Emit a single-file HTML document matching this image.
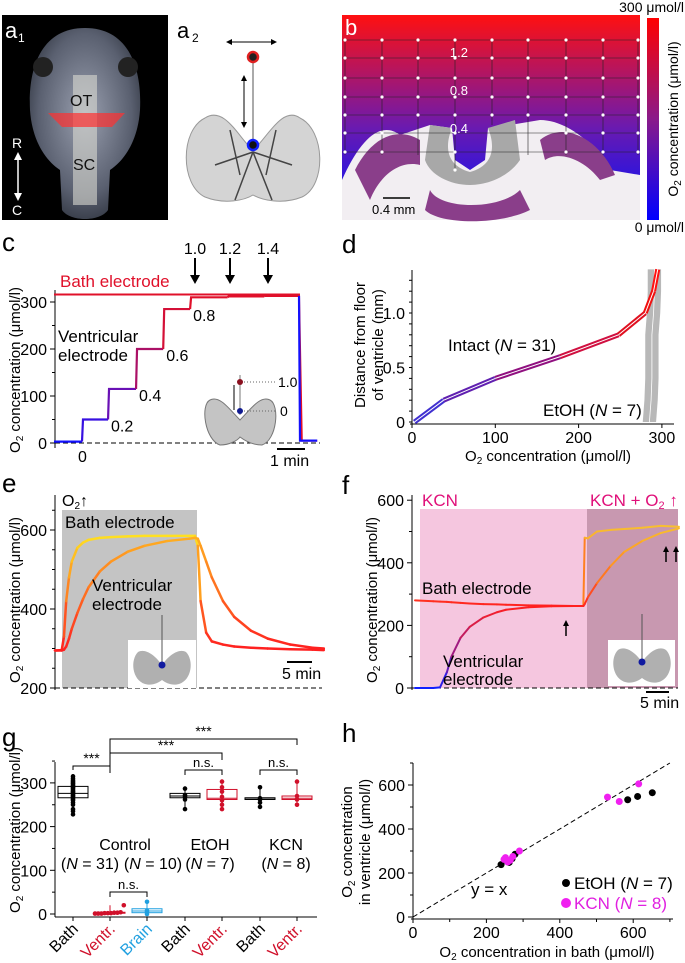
<!DOCTYPE html>
<html><head><meta charset="utf-8">
<style>
body{margin:0;background:#fff;}
svg{display:block;font-family:"Liberation Sans",Arial,sans-serif;}
</style></head>
<body>
<svg id="fig" width="685" height="963" viewBox="0 0 685 963" xmlns="http://www.w3.org/2000/svg">
<defs>
<linearGradient id="gradB" x1="0" y1="0" x2="0" y2="1"><stop offset="0" stop-color="#ff0000"/><stop offset="0.5" stop-color="#8a1a8a"/><stop offset="1" stop-color="#0000ff"/></linearGradient>
<linearGradient id="gradC" x1="0" y1="1" x2="0" y2="0"><stop offset="0" stop-color="#0000ff"/><stop offset="0.6" stop-color="#8a1a8a"/><stop offset="1" stop-color="#ff0000"/></linearGradient>
<linearGradient id="gradBV" x1="0" y1="0" x2="0" y2="1"><stop offset="0" stop-color="#ff1010"/><stop offset="0.55" stop-color="#6a1ab0"/><stop offset="1" stop-color="#0010ff"/></linearGradient>
<radialGradient id="body" cx="0.5" cy="0.45" r="0.6"><stop offset="0" stop-color="#9aa0b0"/><stop offset="0.7" stop-color="#5a6070"/><stop offset="1" stop-color="#303540"/></radialGradient>
</defs>

<!-- a1 -->
<g>
<rect x="2" y="15" width="166" height="205" fill="#000"/>
<path d="M85 28 C40 28 28 70 30 110 C32 140 45 160 60 170 L62 210 C70 222 100 222 108 210 L110 170 C125 160 138 140 140 110 C142 70 130 28 85 28Z" fill="url(#body)"/>
<rect x="73" y="75" width="24" height="130" fill="#d8d8d0" opacity="0.6"/>
<circle cx="43" cy="67" r="10" fill="#222"/><circle cx="128" cy="67" r="10" fill="#222"/>
<path d="M48 113 L125 113 L112 127 L62 127Z" fill="#ff3030" opacity="0.7"/>
<text x="5" y="38" fill="#fff" font-size="22">a</text><text x="18" y="42" fill="#fff" font-size="12">1</text>
<text x="70" y="106" font-size="16" fill="#111">OT</text>
<text x="73" y="170" font-size="16" fill="#111">SC</text>
<text x="12" y="148" font-size="14" fill="#fff">R</text>
<text x="12" y="215" font-size="14" fill="#fff">C</text>
<line x1="18" y1="155" x2="18" y2="198" stroke="#fff" stroke-width="1.5"/>
<path d="M14 160 L18 152 L22 160Z M14 193 L18 201 L22 193Z" fill="#fff"/>
</g>

<!-- a2 -->
<g>
<text x="177" y="38" font-size="22">a</text><text x="192" y="42" font-size="12">2</text>
<line x1="228" y1="42" x2="275" y2="42" stroke="#000"/>
<path d="M226 42 L232 39 L232 45Z M277 42 L271 39 L271 45Z"/>
<line x1="253" y1="57" x2="253" y2="145" stroke="#555"/>
<line x1="244" y1="78" x2="244" y2="125" stroke="#000"/>
<path d="M244 75 L241 81 L247 81Z M244 128 L241 122 L247 122Z"/>
<circle cx="253" cy="57" r="5" fill="#222" stroke="#e02020" stroke-width="2.5"/>
<path d="M253 150 C240 140 225 105 205 118 C180 130 180 185 205 197 C225 205 245 200 253 195 C262 200 282 205 302 197 C327 185 325 130 300 118 C282 105 266 140 253 150Z" fill="#d4d4d4" stroke="#999"/>
<path d="M253 152 L235 200 M253 152 L272 200 M253 152 L215 165 M253 152 L292 165 M230 130 L240 175 M276 130 L266 175" stroke="#444" stroke-width="1.5"/>
<circle cx="253" cy="145" r="5" fill="#111" stroke="#1020ff" stroke-width="2.5"/>
</g>

<!-- b -->
<g>
<rect x="342" y="15" width="298" height="205" fill="url(#gradBV)"/>
<path d="M342 180 C360 140 380 120 400 135 L430 125 L452 128 L455 160 L470 170 L485 160 L488 128 L510 125 L540 120 C570 120 600 150 610 170 L640 175 L640 220 L342 220Z" fill="#f2eef2"/>
<path d="M355 170 C370 140 395 125 420 140 L420 165 C400 160 380 175 370 200Z M540 140 C565 120 600 140 615 175 L600 180 C585 160 560 150 545 160Z M430 190 C440 210 500 210 520 190 L530 210 C500 225 440 225 425 210Z" fill="#8a3e8a"/>
<path d="M430 125 L452 128 C445 145 445 165 470 172 C495 165 495 145 488 128 L515 120 L520 160 C510 175 490 185 470 185 C450 185 430 175 425 160Z" fill="#a8a8a8"/>
<g id="bgrid" stroke="#222" stroke-width="0.6"></g>
<text x="345" y="35" font-size="22" fill="#fff">b</text>
<text x="468" y="57" font-size="13" fill="#fff" text-anchor="end">1.2</text>
<text x="468" y="95" font-size="13" fill="#fff" text-anchor="end">0.8</text>
<text x="468" y="133" font-size="13" fill="#fff" text-anchor="end">0.4</text>
<line x1="383" y1="198" x2="410" y2="198" stroke="#000" stroke-width="1.5"/>
<text x="372" y="214" font-size="13">0.4 mm</text>
<rect x="647" y="18" width="12" height="202" fill="url(#gradB)"/>
<text x="684" y="12" font-size="14" text-anchor="end">300 μmol/l</text>
<text x="684" y="232" font-size="14" text-anchor="end">0 μmol/l</text>
<text transform="translate(678,119) rotate(-90)" font-size="14" text-anchor="middle">O<tspan font-size="10" dy="3">2</tspan><tspan dy="-3"> concentration (μmol/l)</tspan></text>
</g>

<!-- panel labels -->
<g font-size="26">
<text x="2" y="251">c</text><text x="342" y="253">d</text><text x="2" y="492">e</text><text x="342" y="494">f</text><text x="2" y="746">g</text><text x="342" y="742">h</text>
</g>

<g id="c"></g>
<g id="d"></g>
<g id="e"></g>
<g id="f"></g>
<g id="g"></g>
<g id="h"></g>
</svg>
<script>
// ---- data ----
// c: steps (time in min, level µmol/l)
const cStepTimes=[-1,0,0.93,1.93,2.9,3.86,5.2,6.5,7.75];
const cStepLevels=[3,50,115,200,285,310,312,313,5];
const cBathLevel=[316,316];
const cStepLabels=["0.2","0.4","0.6","0.8"];
// d
const dConcIntact=[3,38,100,178,248,280,290,295];
const dDistIntact=[0,0.2,0.4,0.6,0.8,1.0,1.2,1.4];
const dEtohConc=[285,287,288,288,288,290,291,291];
// e (min, µmol/l)
const eTime=[0,1.2,1.6,2,2.5,3,4,5,6,8,10,13,16,20,24,25,25.5,26,27,28,30,32,35,38,42,46,48];
const eBath=[295,296,330,420,480,520,555,568,575,580,582,584,585,585,585,585,560,420,340,318,310,305,302,300,298,297,296];
const eVent=[295,295,297,305,325,350,390,425,455,495,520,545,560,572,578,580,578,560,520,480,420,380,345,325,310,302,300];
// f
const fTime=[0,4,5.5,7,8,10,12,15,18,20,25,30,35,37,37.3,38,40,43,46,50,54,58];
const fBath=[280,277,276,275,274,272,270,268,267,266,264,263,262,262,480,478,500,505,508,512,518,515];
const fVent=[0,0,2,50,100,160,195,225,242,250,258,261,262,262,268,290,335,390,435,470,495,510];
// g
const gCats=["Bath","Ventr.","Brain","Bath","Ventr.","Bath","Ventr."];
const gMed=[276,3,7,270,265,263,265];
const gQ1=[266,2,3,266,262,262,262];
const gQ3=[292,4,12,276,285,266,270];
const gMin=[228,1,0,240,240,245,250];
const gMax=[315,20,28,287,303,290,303];
const gPts=[[228,235,240,250,255,260,262,265,268,270,272,275,276,278,280,282,285,288,290,292,295,298,300,303,306,310,315],
 [1,1,1,2,2,2,3,3,4,20],[0,5,8,28],[240,262,268,272,287],[240,250,260,268,280,290,303],[245,255,262,265,290],[250,262,270,303]];
// h
const hEtohX=[240,262,270,278,585,612,652];
const hEtohY=[238,248,265,285,533,548,565];
const hKcnX=[248,252,258,265,272,290,530,562,615];
const hKcnY=[262,270,250,258,275,300,545,525,605];

const NS="http://www.w3.org/2000/svg";
function mk(p,t,a,txt){const e=document.createElementNS(NS,t);for(const k in a)e.setAttribute(k,a[k]);if(txt!==undefined)e.textContent=txt;p.appendChild(e);return e;}
function yLabel(g,x,y,str){const t=mk(g,'text',{transform:`translate(${x},${y}) rotate(-90)`,'font-size':15,'text-anchor':'middle'});
 t.innerHTML='O<tspan font-size="10" dy="3">2</tspan><tspan dy="-3"> '+str+'</tspan>';return t;}
const TF=16;

// b grid
(function(){const g=document.getElementById('bgrid');
 const ys=[40,58,78,97,115,133,152],xs=[345,382,418,455,492,528,566,603,638];
 ys.forEach(y=>{mk(g,'line',{x1:342,x2:640,y1:y,y2:y});});
 xs.forEach(x=>mk(g,'line',{x1:x,x2:x,y1:40,y2:x<420||x>520?155:(x==455?170:125)}));
 ys.forEach(y=>xs.forEach(x=>{if(y>120&&x>410&&x<540&&x!=455)return;mk(g,'circle',{cx:x,cy:y,r:1.6,fill:'#fff',stroke:'none'});}));
 mk(g,'circle',{cx:455,cy:170,r:1.6,fill:'#fff',stroke:'none'});
})();

function mix(a,b,f){const pa=a.match(/\w\w/g).map(h=>parseInt(h,16)),pb=b.match(/\w\w/g).map(h=>parseInt(h,16));return 'rgb('+pa.map((v,i)=>Math.round(v+(pb[i]-v)*f)).join(',')+')';}
function colorOf(v,lo,hi,stops){const f=Math.max(0,Math.min(1,(v-lo)/(hi-lo)));const n=stops.length-1;const k=Math.min(n-1,Math.floor(f*n));return mix(stops[k],stops[k+1],f*n-k);}

// ---- c ----
(function(){const g=document.getElementById('c');
 const X=t=>82+t*28, Y=v=>443-v*0.47;
 mk(g,'line',{x1:55,x2:55,y1:290,y2:448,stroke:'#000'});
 [0,100,200,300].forEach(v=>{mk(g,'line',{x1:50,x2:55,y1:Y(v),y2:Y(v),stroke:'#000'});mk(g,'text',{x:47,y:Y(v)+6,'font-size':TF,'text-anchor':'end'},v);});
 [50,150,250].forEach(v=>mk(g,'line',{x1:52,x2:55,y1:Y(v),y2:Y(v),stroke:'#000'}));
 mk(g,'line',{x1:55,x2:320,y1:Y(0),y2:Y(0),stroke:'#000','stroke-dasharray':'5,3'});
 yLabel(g,20,370,'concentration (μmol/l)');
 let d=`M${X(-1)} ${Y(cBathLevel[0])} L${X(7.75)} ${Y(cBathLevel[1])} L${X(7.85)} ${Y(5)} L${X(8.4)} ${Y(5)}`;
 const bath=mk(g,'path',{d,fill:'none',stroke:'#e0102a','stroke-width':2});
 
 for(let i=0;i<cStepTimes.length;i++){const t=cStepTimes[i],v=cStepLevels[i];const tn=i<cStepTimes.length-1?cStepTimes[i+1]:8.4;
  const pv=i?cStepLevels[i-1]:v;const col=colorOf(v,0,310,['1010ff','6010c0','b01060','e0102a']);
  const seg=mk(g,'path',{d:`M${X(t)} ${Y(pv)} L${X(t)+1} ${Y(v)} L${X(tn)} ${Y(v)}`,fill:'none',stroke:col,'stroke-width':2.2});
  }
 cStepLabels.forEach((s,i)=>mk(g,'text',{x:X(cStepTimes[i+2])+3,y:Y(cStepLevels[i+1])+12,'font-size':TF},s));
 mk(g,'text',{x:X(0)-4,y:462,'font-size':TF},'0');
 [['1.0',195],['1.2',230],['1.4',268]].forEach(([s,x])=>{mk(g,'text',{x:x,y:254,'font-size':TF,'text-anchor':'middle'},s);mk(g,'line',{x1:x,x2:x,y1:258,y2:278,stroke:'#000','stroke-width':2});mk(g,'path',{d:`M${x-5} 275 L${x} 284 L${x+5} 275Z`});});
 mk(g,'text',{x:60,y:287,'font-size':17,fill:'#e0102a'},'Bath electrode');
 mk(g,'text',{x:58,y:342,'font-size':17},'Ventricular');mk(g,'text',{x:58,y:361,'font-size':17},'electrode');
 mk(g,'line',{x1:277,x2:305,y1:449,y2:449,stroke:'#000','stroke-width':2});
 mk(g,'text',{x:270,y:466,'font-size':TF},'1 min');
 mk(g,'path',{d:'M240 420 C230 410 220 395 210 400 C200 405 205 440 220 445 C230 445 238 440 240 437 C244 440 252 445 262 445 C277 440 280 405 270 400 C260 395 250 410 240 420Z',fill:'#c4c4c4',stroke:'#777'});
 mk(g,'line',{x1:240,x2:240,y1:375,y2:415,stroke:'#777'});
 mk(g,'line',{x1:234,x2:234,y1:385,y2:410,stroke:'#000'});
 mk(g,'line',{x1:244,x2:275,y1:382,y2:382,stroke:'#666','stroke-dasharray':'1,2'});
 mk(g,'line',{x1:244,x2:275,y1:411,y2:411,stroke:'#666','stroke-dasharray':'1,2'});
 mk(g,'circle',{cx:240,cy:382,r:3,fill:'#8b1020'});mk(g,'circle',{cx:240,cy:411,r:3,fill:'#101a90'});
 mk(g,'text',{x:278,y:387,'font-size':14},'1.0');mk(g,'text',{x:280,y:416,'font-size':14},'0');
})();

// ---- d ----
(function(){const g=document.getElementById('d');
 const X=v=>412+v*0.833, Y=v=>422-v*109;
 mk(g,'line',{x1:412,x2:412,y1:270,y2:424,stroke:'#000'});
 mk(g,'line',{x1:410,x2:674,y1:424,y2:424,stroke:'#000'});
 [0,0.5,1.0].forEach(v=>{mk(g,'text',{x:405,y:Y(v)+6,'font-size':TF,'text-anchor':'end'},v==0?'0':v.toFixed(1));});
 [0,0.1,0.2,0.3,0.4,0.5,0.6,0.7,0.8,0.9,1.0,1.1,1.2,1.3].forEach(v=>mk(g,'line',{x1:409,x2:412,y1:Y(v),y2:Y(v),stroke:'#000'}));
 [0,100,200,300].forEach(v=>{mk(g,'line',{x1:X(v),x2:X(v),y1:424,y2:428,stroke:'#000'});mk(g,'text',{x:X(v),y:443,'font-size':TF,'text-anchor':'middle'},v);});
 mk(g,'text',{x:548,y:461,'font-size':15,'text-anchor':'middle'}).innerHTML='O<tspan font-size="10" dy="3">2</tspan><tspan dy="-3"> concentration (μmol/l)</tspan>';
 mk(g,'text',{transform:'translate(365,345) rotate(-90)','font-size':15,'text-anchor':'middle'},'Distance from floor');
 mk(g,'text',{transform:'translate(383,345) rotate(-90)','font-size':15,'text-anchor':'middle'},'of ventricle (mm)');
 let l='',r='';dDistIntact.forEach((dd,i)=>{l+=(i?'L':'M')+X(dEtohConc[i]-8)+' '+Y(dd);});
 for(let i=dDistIntact.length-1;i>=0;i--)r+='L'+X(dEtohConc[i]+8)+' '+Y(dDistIntact[i]);
 mk(g,'path',{d:l+r+'Z',fill:'#b8b8b8'});
 let pe='';dDistIntact.forEach((dd,i)=>pe+=(i?'L':'M')+X(dEtohConc[i])+' '+Y(dd));mk(g,'path',{d:pe,stroke:'#fff',fill:'none','stroke-width':0.8});
 const cols=['#3030e0','#4030d0','#6020b0','#901080','#d01040','#e01020','#f01010','#ff1010'];
 for(let i=0;i<dConcIntact.length-1;i++){
  mk(g,'line',{x1:X(dConcIntact[i]),y1:Y(dDistIntact[i]),x2:X(dConcIntact[i+1]),y2:Y(dDistIntact[i+1]),stroke:cols[i+1],'stroke-width':5});
  mk(g,'line',{x1:X(dConcIntact[i]),y1:Y(dDistIntact[i]),x2:X(dConcIntact[i+1]),y2:Y(dDistIntact[i+1]),stroke:'#fff','stroke-width':1});}
 mk(g,'text',{x:448,y:351,'font-size':17}).innerHTML='Intact (<tspan font-style="italic">N</tspan> = 31)';
 mk(g,'text',{x:543,y:416,'font-size':17}).innerHTML='EtOH (<tspan font-style="italic">N</tspan> = 7)';
})();

// ---- e ----
(function(){const g=document.getElementById('e');
 const X=t=>55+t*5.6, Y=v=>688-(v-200)*0.395;
 mk(g,'rect',{x:62,y:510,width:135,height:178,fill:'#c4c4c4'});
 mk(g,'line',{x1:55,x2:55,y1:495,y2:690,stroke:'#000'});
 [200,400,600].forEach(v=>{mk(g,'line',{x1:50,x2:55,y1:Y(v),y2:Y(v),stroke:'#000'});mk(g,'text',{x:47,y:Y(v)+6,'font-size':TF,'text-anchor':'end'},v);});
 [250,300,350,450,500,550,650].forEach(v=>mk(g,'line',{x1:52,x2:55,y1:Y(v),y2:Y(v),stroke:'#000'}));
 mk(g,'line',{x1:55,x2:322,y1:688,y2:688,stroke:'#000','stroke-dasharray':'5,3'});
 yLabel(g,20,600,'concentration (μmol/l)');
 const st=['ff2020','ff8020','ffe020'];
 for(let i=0;i<eTime.length-1;i++){mk(g,'line',{x1:X(eTime[i]),y1:Y(eBath[i]),x2:X(eTime[i+1]),y2:Y(eBath[i+1]),stroke:colorOf((eBath[i]+eBath[i+1])/2,300,585,st),'stroke-width':2.5,'stroke-linecap':'round'});}
 for(let i=0;i<eTime.length-1;i++){mk(g,'line',{x1:X(eTime[i]),y1:Y(eVent[i]),x2:X(eTime[i+1]),y2:Y(eVent[i+1]),stroke:colorOf((eVent[i]+eVent[i+1])/2,300,585,['ff2020','ff7020','ffb020']),'stroke-width':2.5,'stroke-linecap':'round'});}
 mk(g,'text',{x:62,y:506,'font-size':16}).innerHTML='O<tspan font-size="10" dy="3">2</tspan><tspan dy="-3">↑</tspan>';
 mk(g,'text',{x:65,y:528,'font-size':17},'Bath electrode');
 mk(g,'text',{x:92,y:591,'font-size':17},'Ventricular');mk(g,'text',{x:92,y:610,'font-size':17},'electrode');
 mk(g,'rect',{x:128,y:640,width:68,height:48,fill:'#fff'});
 mk(g,'path',{d:'M162 665 C155 655 145 648 138 652 C130 660 132 680 145 684 C152 686 158 683 162 680 C166 683 172 686 179 684 C192 680 194 660 186 652 C179 648 169 655 162 665Z',fill:'#b0b0b0'});
 mk(g,'line',{x1:162,x2:162,y1:615,y2:664,stroke:'#555'});mk(g,'circle',{cx:162,cy:665,r:3.5,fill:'#101aa0'});
 mk(g,'line',{x1:287,x2:312,y1:662,y2:662,stroke:'#000','stroke-width':2});
 mk(g,'text',{x:282,y:679,'font-size':TF},'5 min');
})();

// ---- f ----
(function(){const g=document.getElementById('f');
 const X=t=>415+t*4.55, Y=v=>688-v*0.313;
 mk(g,'rect',{x:420,y:509,width:167,height:179,fill:'#f5c6df'});
 mk(g,'rect',{x:587,y:509,width:91,height:179,fill:'#c898b0'});
 mk(g,'line',{x1:412,x2:412,y1:495,y2:690,stroke:'#000'});
 [0,200,400,600].forEach(v=>{mk(g,'line',{x1:407,x2:412,y1:Y(v),y2:Y(v),stroke:'#000'});mk(g,'text',{x:404,y:Y(v)+6,'font-size':TF,'text-anchor':'end'},v);});
 [100,300,500].forEach(v=>mk(g,'line',{x1:409,x2:412,y1:Y(v),y2:Y(v),stroke:'#000'}));
 mk(g,'line',{x1:412,x2:678,y1:688,y2:688,stroke:'#000','stroke-dasharray':'5,3'});
 yLabel(g,377,600,'concentration (μmol/l)');
 const st=['1020ff','a01a80','ff2020','ff9020','f8c030'];
 for(let i=0;i<fTime.length-1;i++){mk(g,'line',{x1:X(fTime[i]),y1:Y(fBath[i]),x2:X(fTime[i+1]),y2:Y(fBath[i+1]),stroke:colorOf((fBath[i]+fBath[i+1])/2,0,520,st),'stroke-width':2,'stroke-linecap':'round'});}
 for(let i=0;i<fTime.length-1;i++){mk(g,'line',{x1:X(fTime[i]),y1:Y(fVent[i]),x2:X(fTime[i+1]),y2:Y(fVent[i+1]),stroke:colorOf((fVent[i]+fVent[i+1])/2,0,520,st),'stroke-width':2,'stroke-linecap':'round'});}
 mk(g,'text',{x:422,y:506,'font-size':17,fill:'#e0107a'},'KCN');
 mk(g,'text',{x:590,y:506,'font-size':17,fill:'#e0107a'}).innerHTML='KCN + O<tspan font-size="11" dy="3">2</tspan><tspan dy="-3"> ↑</tspan>';
 mk(g,'text',{x:422,y:594,'font-size':17},'Bath electrode');
 mk(g,'text',{x:443,y:667,'font-size':17},'Ventricular');mk(g,'text',{x:443,y:685,'font-size':17},'electrode');
 [[566,622],[666,548],[676,548]].forEach(([x,y])=>{mk(g,'line',{x1:x,x2:x,y1:y,y2:y+14,stroke:'#000','stroke-width':1.5});mk(g,'path',{d:`M${x-3} ${y+4} L${x} ${y-2} L${x+3} ${y+4}Z`});});
 mk(g,'rect',{x:608,y:640,width:67,height:46,fill:'#fff'});
 mk(g,'path',{d:'M642 662 C635 652 625 645 618 650 C610 658 612 678 625 682 C632 684 638 681 642 678 C646 681 652 684 659 682 C672 678 674 658 666 650 C659 645 649 652 642 662Z',fill:'#b0b0b0'});
 mk(g,'line',{x1:642,x2:642,y1:614,y2:662,stroke:'#555'});mk(g,'circle',{cx:642,cy:662,r:3.5,fill:'#101aa0'});
 mk(g,'line',{x1:646,x2:669,y1:692,y2:692,stroke:'#000','stroke-width':2});
 mk(g,'text',{x:640,y:708,'font-size':TF},'5 min');
})();

// ---- g ----
(function(){const g=document.getElementById('g');
 const xs=[73,110,147,185,222,260,297];const Y=v=>914-v*0.437;
 const cols=['#000','#d0102a','#20a0e0','#000','#d0102a','#000','#d0102a'];
 mk(g,'line',{x1:55,x2:55,y1:762,y2:917,stroke:'#000'});mk(g,'line',{x1:55,x2:317,y1:917,y2:917,stroke:'#000'});
 [0,100,200,300].forEach(v=>{mk(g,'line',{x1:50,x2:55,y1:Y(v),y2:Y(v),stroke:'#000'});mk(g,'text',{x:47,y:Y(v)+6,'font-size':TF,'text-anchor':'end'},v);});
 [50,150,250,350].forEach(v=>mk(g,'line',{x1:52,x2:55,y1:Y(v),y2:Y(v),stroke:'#000'}));
 yLabel(g,20,830,'concentration (μmol/l)');
 gCats.forEach((c,i)=>{const x=xs[i],col=cols[i];
  mk(g,'line',{x1:x,x2:x,y1:917,y2:921,stroke:'#000'});
  mk(g,'line',{x1:x,x2:x,y1:Y(gMin[i]),y2:Y(gMax[i]),stroke:col});
  mk(g,'rect',{x:x-15,y:Y(gQ3[i]),width:30,height:Math.max(1,Y(gQ1[i])-Y(gQ3[i])),fill:'none',stroke:col});
  mk(g,'line',{x1:x-15,x2:x+15,y1:Y(gMed[i]),y2:Y(gMed[i]),stroke:col});
  gPts[i].forEach((v,j)=>mk(g,'circle',{cx:i==1?x-15+j*3.2:x,cy:Y(v),r:2.3,fill:col}));
  mk(g,'text',{transform:`translate(${x+6},${930}) rotate(-45)`,'font-size':TF,'text-anchor':'end',fill:col},c);
 });
 function br(x1,x2,y,y1,y2,s){mk(g,'path',{d:`M${x1} ${y1} L${x1} ${y} L${x2} ${y} L${x2} ${y2}`,fill:'none',stroke:'#000'});mk(g,'text',{x:(x1+x2)/2,y:y-3,'font-size':s=='n.s.'?13:14,'text-anchor':'middle'},s);}
 br(73,110,766,770,773,'***');br(110,222,753,766,760,'***');br(110,297,739,753,745,'***');
 br(185,222,770,775,775,'n.s.');br(260,297,770,775,775,'n.s.');br(110,147,892,897,897,'n.s.');
 mk(g,'text',{x:125,y:850,'font-size':TF,'text-anchor':'middle'},'Control');
 mk(g,'text',{x:90,y:869,'font-size':TF,'text-anchor':'middle'}).innerHTML='(<tspan font-style="italic">N</tspan> = 31)';
 mk(g,'text',{x:153,y:869,'font-size':TF,'text-anchor':'middle'}).innerHTML='(<tspan font-style="italic">N</tspan> = 10)';
 mk(g,'text',{x:210,y:850,'font-size':TF,'text-anchor':'middle'},'EtOH');
 mk(g,'text',{x:210,y:869,'font-size':TF,'text-anchor':'middle'}).innerHTML='(<tspan font-style="italic">N</tspan> = 7)';
 mk(g,'text',{x:286,y:850,'font-size':TF,'text-anchor':'middle'},'KCN');
 mk(g,'text',{x:286,y:869,'font-size':TF,'text-anchor':'middle'}).innerHTML='(<tspan font-style="italic">N</tspan> = 8)';
})();

// ---- h ----
(function(){const g=document.getElementById('h');
 const X=v=>413+v*0.367, Y=v=>917-v*0.22;
 mk(g,'line',{x1:413,x2:413,y1:763,y2:919,stroke:'#000'});mk(g,'line',{x1:411,x2:673,y1:919,y2:919,stroke:'#000'});
 [0,200,400,600].forEach(v=>{mk(g,'line',{x1:408,x2:413,y1:Y(v),y2:Y(v),stroke:'#000'});mk(g,'text',{x:405,y:Y(v)+6,'font-size':TF,'text-anchor':'end'},v);
  mk(g,'line',{x1:X(v),x2:X(v),y1:919,y2:923,stroke:'#000'});mk(g,'text',{x:X(v),y:938,'font-size':TF,'text-anchor':'middle'},v);});
 [100,300,500,700].forEach(v=>{mk(g,'line',{x1:410,x2:413,y1:Y(v),y2:Y(v),stroke:'#000'});mk(g,'line',{x1:X(v),x2:X(v),y1:919,y2:922,stroke:'#000'});});
 mk(g,'line',{x1:X(0),y1:Y(0),x2:X(700),y2:Y(700),stroke:'#000','stroke-dasharray':'5,3'});
 hEtohX.forEach((v,i)=>mk(g,'circle',{cx:X(v),cy:Y(hEtohY[i]),r:3.5,fill:'#000'}));
 hKcnX.forEach((v,i)=>mk(g,'circle',{cx:X(v),cy:Y(hKcnY[i]),r:3.5,fill:'#f020f0'}));
 mk(g,'text',{x:471,y:895,'font-size':17},'y = x');
 mk(g,'circle',{cx:566,cy:883,r:4,fill:'#000'});mk(g,'text',{x:574,y:889,'font-size':17}).innerHTML='EtOH (<tspan font-style="italic">N</tspan> = 7)';
 mk(g,'circle',{cx:566,cy:903,r:5,fill:'#f020f0'});mk(g,'text',{x:574,y:909,'font-size':17,fill:'#e020e0'}).innerHTML='KCN (<tspan font-style="italic">N</tspan> = 8)';
 mk(g,'text',{x:547,y:957,'font-size':15,'text-anchor':'middle'}).innerHTML='O<tspan font-size="10" dy="3">2</tspan><tspan dy="-3"> concentration in bath (μmol/l)</tspan>';
 mk(g,'text',{transform:'translate(352,842) rotate(-90)','font-size':15,'text-anchor':'middle'}).innerHTML='O<tspan font-size="10" dy="3">2</tspan><tspan dy="-3"> concentration</tspan>';
 mk(g,'text',{transform:'translate(370,842) rotate(-90)','font-size':15,'text-anchor':'middle'},'in ventricle (μmol/l)');
})();
</script>
</body></html>
